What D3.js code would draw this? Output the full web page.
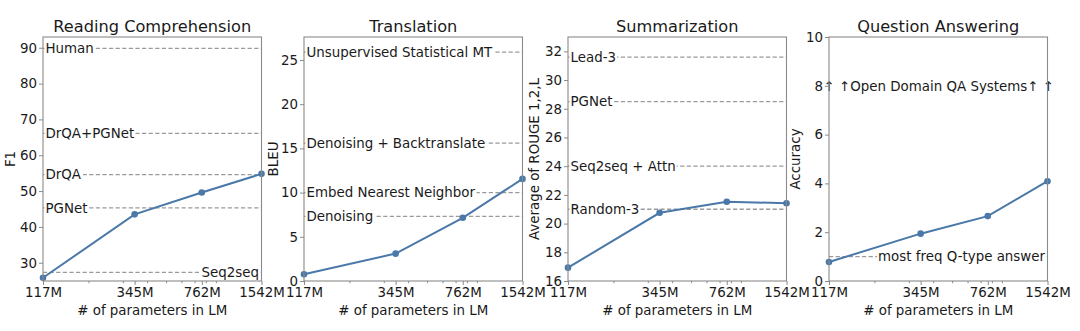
<!DOCTYPE html>
<html><head><meta charset="utf-8">
<script src="https://cdn.jsdelivr.net/npm/d3@7"></script>
<style>
body{margin:0;background:#fff;}
svg{display:block;font-family:"DejaVu Sans",sans-serif;}
</style></head>
<body><svg id="c" width="1080" height="331"></svg>
<script>
const categories = ["117M","345M","762M","1542M"];
const params = [117,345,762,1542];
const minorParams = [200,300,400,500,600,700,800,900];

const titles = ["Reading Comprehension","Translation","Summarization","Question Answering"];
const yLabels = ["F1","BLEU","Average of ROUGE 1,2,L","Accuracy"];

const rcValues = [25.8, 43.5, 49.6, 54.8];
const trValues = [0.76, 3.1, 7.15, 11.55];
const smValues = [16.93, 20.75, 21.52, 21.42];
const qaValues = [0.78, 1.94, 2.66, 4.09];

const rcTicks = [30,40,50,60,70,80,90];
const trTicks = [0,5,10,15,20,25];
const smTicks = [16,18,20,22,24,26,28,30,32];
const qaTicks = [0,2,4,6,8,10];

const rcDomain = [24.9, 93];
const trDomain = [0, 27.6];
const smDomain = [16, 33];
const qaDomain = [0, 10];

const rcBaseNames = ["Human","DrQA+PGNet","DrQA","PGNet","Seq2seq"];
const rcBaseVals = [89.8, 66.1, 54.6, 45.3, 27.3];
const rcBaseAlign = ["left","left","left","left","right"];

const trBaseNames = ["Unsupervised Statistical MT","Denoising + Backtranslate","Embed Nearest Neighbor","Denoising"];
const trBaseVals = [25.9, 15.6, 10.0, 7.3];
const trBaseAlign = ["left","left","left","left"];

const smBaseNames = ["Lead-3","PGNet","Seq2seq + Attn","Random-3"];
const smBaseVals = [31.6, 28.5, 24.0, 21.0];
const smBaseAlign = ["left","left","left","left"];

const qaBaseNames = ["most freq Q-type answer","\u2191\uFE0E \u2191\uFE0EOpen Domain QA Systems\u2191\uFE0E \u2191\uFE0E"];
const qaBaseVals = [1.0, 8.0];
const qaBaseAlign = ["right","center"];

const panels = [
  {vals: rcValues, ticks: rcTicks, domain: rcDomain, bn: rcBaseNames, bv: rcBaseVals, ba: rcBaseAlign},
  {vals: trValues, ticks: trTicks, domain: trDomain, bn: trBaseNames, bv: trBaseVals, ba: trBaseAlign},
  {vals: smValues, ticks: smTicks, domain: smDomain, bn: smBaseNames, bv: smBaseVals, ba: smBaseAlign},
  {vals: qaValues, ticks: qaTicks, domain: qaDomain, bn: qaBaseNames, bv: qaBaseVals, ba: qaBaseAlign}
];

const lefts = [43, 304, 568, 829];
const yLabelOff = [-28, -26, -29, -29];
const pw = 218.5, plotTop = 37, plotBottom = 281;
const svg = d3.select("#c");
const lineColor = "#4a78a8";
const spineColor = "#8a8a8a";
const fs = 13.4;

panels.forEach((p, i) => {
  const g = svg.append("g").attr("transform", `translate(${lefts[i]},0)`);
  const x = d3.scaleLog().domain([117,1542]).range([0,pw]);
  const y = d3.scaleLinear().domain(p.domain).range([plotBottom, plotTop]);

  // baselines
  p.bn.forEach((name, j) => {
    const yy = y(p.bv[j]);
    const al = p.ba[j];
    if (al !== "center") {
      g.append("line").attr("x1",0).attr("x2",pw).attr("y1",yy).attr("y2",yy)
        .attr("stroke","#9a9a9a").attr("stroke-width",1.3).attr("stroke-dasharray","4.2,2.4");
    }
    const bg = g.append("rect").attr("fill","#fff");
    const t = g.append("text").text(name).attr("y", yy).attr("dy","0.36em")
      .attr("font-size", fs).attr("fill","#1a1a1a").attr("font-family","DejaVu Sans");
    if (al === "left") t.attr("x", 2.5).attr("text-anchor","start");
    else if (al === "right") t.attr("x", pw-2.5).attr("text-anchor","end");
    else t.attr("x", pw/2 + 0.5).attr("text-anchor","middle");
    const bb = t.node().getBBox();
    bg.attr("x", bb.x-1).attr("y", yy-3).attr("width", bb.width+2).attr("height", 6);
  });

  // data line
  const line = d3.line().x((d,k)=>x(params[k])).y(d=>y(d));
  g.append("path").datum(p.vals).attr("d", line).attr("fill","none")
    .attr("stroke", lineColor).attr("stroke-width", 2);
  g.selectAll("circle.pt").data(p.vals).enter().append("circle")
    .attr("cx",(d,k)=>x(params[k])).attr("cy",d=>y(d)).attr("r",3.3).attr("fill",lineColor);

  // spines
  g.append("rect").attr("x",0).attr("y",plotTop).attr("width",pw).attr("height",plotBottom-plotTop)
    .attr("fill","none").attr("stroke",spineColor).attr("stroke-width",1.1);

  // x axis
  const xa = d3.axisBottom(x).tickValues(params).tickFormat((d,k)=>categories[k]).tickSize(4).tickPadding(2);
  const gx = g.append("g").attr("transform",`translate(0,${plotBottom})`).call(xa);
  const xm = d3.axisBottom(x).tickValues(minorParams).tickFormat("").tickSize(2.2);
  const gxm = g.append("g").attr("transform",`translate(0,${plotBottom})`).call(xm);
  [gx,gxm].forEach(a=>{a.select(".domain").remove(); a.selectAll("line").attr("stroke",spineColor);});
  gx.selectAll("text").attr("font-size",fs).attr("fill","#1a1a1a").attr("font-family","DejaVu Sans");

  // y axis
  const ya = d3.axisLeft(y).tickValues(p.ticks).tickSize(4).tickPadding(2);
  const gy = g.append("g").call(ya);
  gy.select(".domain").remove();
  gy.selectAll("line").attr("stroke",spineColor);
  gy.selectAll("text").attr("font-size",fs).attr("fill","#1a1a1a").attr("font-family","DejaVu Sans");

  // titles and labels
  g.append("text").text(titles[i]).attr("x",pw/2).attr("y",31.5).attr("text-anchor","middle")
    .attr("font-size",16.2).attr("fill","#1a1a1a");
  g.append("text").text("# of parameters in LM").attr("x",pw/2).attr("y",315).attr("text-anchor","middle")
    .attr("font-size",fs).attr("fill","#1a1a1a");
  g.append("text").text(yLabels[i]).attr("transform",`translate(${yLabelOff[i]},${(plotTop+plotBottom)/2}) rotate(-90)`)
    .attr("text-anchor","middle").attr("font-size",fs).attr("fill","#1a1a1a");
});
</script></body></html>
